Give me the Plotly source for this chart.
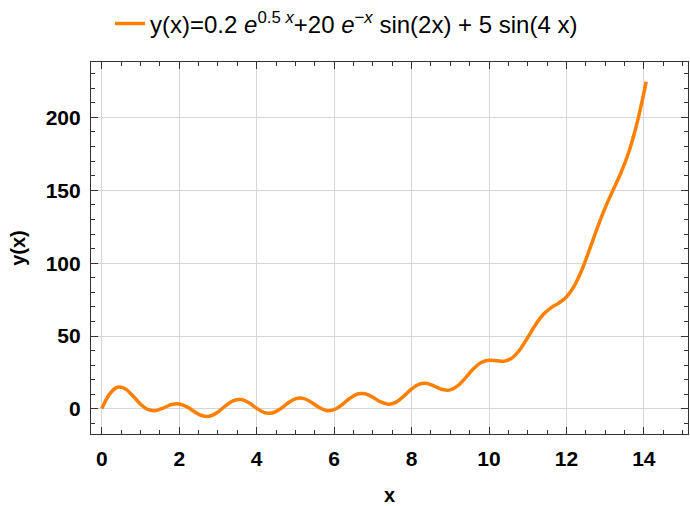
import plotly.graph_objects as go

x_vals = [0.0, 0.2, 0.4, 0.6, 0.8, 1.0, 1.2, 1.4, 1.6, 1.8, 2.0, 2.2, 2.4, 2.6, 2.8, 3.0,
          3.2, 3.4, 3.6, 3.8, 4.0, 4.2, 4.4, 4.6, 4.8, 5.0, 5.2, 5.4, 5.6, 5.8, 6.0,
          6.2, 6.4, 6.6, 6.8, 7.0, 7.2, 7.4, 7.6, 7.8, 8.0, 8.2, 8.4, 8.6, 8.8, 9.0,
          9.2, 9.4, 9.6, 9.8, 10.0, 10.2, 10.4, 10.6, 10.8, 11.0, 11.2, 11.4, 11.6,
          11.8, 12.0, 12.2, 12.4, 12.6, 12.8, 13.0, 13.2, 13.4, 13.6, 13.8, 14.0, 14.06]
y_vals = [0.2, 10.18, 14.86, 13.88, 8.99, 3.24, -0.55, -1.10, 0.79, 3.00, 3.44, 1.42,
          -2.02, -4.72, -4.85, -2.07, 2.24, 5.72, 6.47, 4.20, 0.40, -2.55, -2.80, -0.13,
          3.89, 6.93, 7.25, 4.79, 1.23, -1.09, -0.54, 2.80, 7.17, 10.21, 10.41, 8.00,
          4.82, 3.25, 4.70, 8.81, 13.67, 16.98, 17.43, 15.52, 13.29, 13.04, 15.98, 21.49,
          27.53, 31.85, 33.41, 33.01, 32.81, 35.07, 40.76, 49.03, 57.73, 64.77, 69.37,
          72.63, 76.84, 84.20, 95.46, 109.58, 124.39, 137.96, 149.87, 161.52, 175.38,
          193.58, 216.72, 224.5]

legend_label = ("y(x)=0.2 <i>e</i><sup>0.5 <i>x</i></sup>+20 <i>e</i><sup>\u2212<i>x</i></sup>"
                " sin(2x) + 5 sin(4 x)")
x_ticks = [0, 2, 4, 6, 8, 10, 12, 14]
y_ticks = [0, 50, 100, 150, 200]

FONT = "Liberation Sans, Arial, sans-serif"

fig = go.Figure()
fig.add_trace(go.Scatter(x=x_vals, y=y_vals, mode="lines", name=legend_label,
                         line=dict(color="#FF8000", width=3.5, shape="spline", smoothing=1.0),
                         showlegend=True))

axis_common = dict(
    showline=True, linecolor="#333333", linewidth=1.2, mirror="allticks",
    ticks="inside", ticklen=7, tickwidth=1.2, tickcolor="#333333",
    showgrid=True, gridcolor="#D6D6D6", gridwidth=1, zeroline=False,
    tickfont=dict(family=FONT, size=21, color="black"),
)

fig.update_xaxes(**axis_common, range=[-0.28, 15.14], tickvals=x_ticks,
                 ticktext=[f"<b>{v}</b>" for v in x_ticks], ticklabelstandoff=6,
                 minor=dict(dtick=0.5, ticks="inside", ticklen=4, tickwidth=1, tickcolor="#333333", showgrid=False),
                 title=dict(text="<b>x</b>", font=dict(family=FONT, size=20, color="black"), standoff=18))
fig.update_yaxes(**axis_common, range=[-17.2, 238], tickvals=y_ticks,
                 ticktext=[f"<b>{v}</b>" for v in y_ticks], ticklabelstandoff=5,
                 minor=dict(dtick=10, ticks="inside", ticklen=4, tickwidth=1, tickcolor="#333333", showgrid=False),
                 title=dict(text="<b>y(x)</b>", font=dict(family=FONT, size=20, color="black"), standoff=14))

fig.update_layout(
    width=690, height=506,
    margin=dict(l=91, r=2, t=62, b=72),
    paper_bgcolor="white", plot_bgcolor="white",
    font=dict(family=FONT, color="black"),
    legend=dict(orientation="h", x=110 / 690, xanchor="left", xref="container",
                y=1 - 24 / 506, yanchor="middle", yref="container",
                font=dict(family=FONT, size=24, color="black"),
                bgcolor="rgba(0,0,0,0)"),
)

fig.write_html("out.html")
